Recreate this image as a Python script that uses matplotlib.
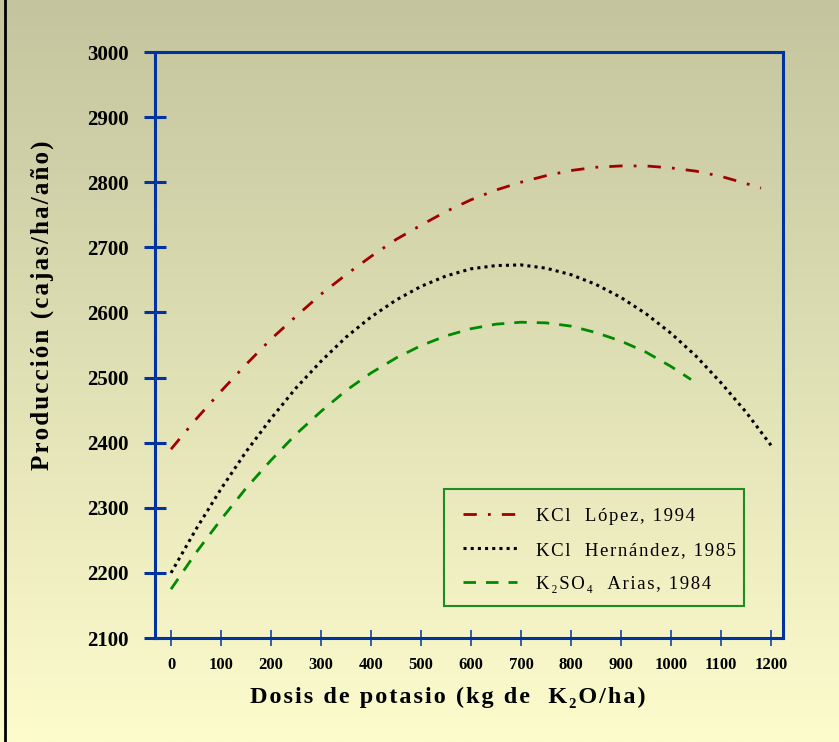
import numpy as np
import matplotlib.pyplot as plt
from matplotlib.colors import LinearSegmentedColormap
from matplotlib.lines import Line2D
from matplotlib.patches import Rectangle

plt.rcParams['font.family'] = ['Liberation Serif', 'DejaVu Serif']

# valores (kg K2O/ha -> cajas/ha/año)
dosis_lopez = [0, 50, 100, 150, 200, 250, 300, 350, 400, 450, 500, 550, 600,
               650, 700, 750, 800, 850, 900, 950, 1000, 1050, 1100, 1150, 1180]
prod_lopez = [2390, 2436, 2479, 2520, 2559, 2594, 2628, 2658, 2686, 2712, 2734,
              2755, 2773, 2788, 2800, 2810, 2818, 2823, 2825, 2825, 2822, 2817,
              2809, 2798, 2791]

dosis_hernandez = [0, 50, 100, 150, 200, 250, 300, 350, 400, 450, 500, 550, 600,
                   650, 700, 750, 800, 850, 900, 950, 1000, 1050, 1100, 1150, 1200]
prod_hernandez = [2200, 2267, 2329, 2386, 2437, 2484, 2525, 2562, 2593, 2619,
                  2640, 2656, 2667, 2672, 2673, 2668, 2658, 2643, 2623, 2598,
                  2568, 2533, 2492, 2447, 2396]

dosis_arias = [0, 50, 100, 150, 200, 250, 300, 350, 400, 450, 500, 550, 600,
               650, 700, 750, 800, 850, 900, 950, 1000, 1040]
prod_arias = [2175, 2231, 2282, 2330, 2373, 2413, 2448, 2480, 2507, 2530, 2549,
              2564, 2575, 2582, 2585, 2584, 2579, 2569, 2556, 2539, 2517, 2497]

etiquetas = ['KCl  López, 1994', 'KCl  Hernández, 1985', 'K₂SO₄  Arias, 1984']


def espaciar(t):
    # separacion entre letras como en el original
    return '\u200a'.join(t)


azul = '#0033a0'
W, H = 839, 742

fig = plt.figure(figsize=(W / 100, H / 100), dpi=100)

# fondo degradado
bg = fig.add_axes([0, 0, 1, 1], zorder=-10)
cmap = LinearSegmentedColormap.from_list('fondo', ['#c4c49e', '#fcfccd'])
bg.imshow(np.linspace(0, 1, 256)[:, None], aspect='auto', cmap=cmap,
          extent=[0, 1, 0, 1], origin='upper')
bg.axis('off')
fig.add_artist(Line2D([5 / W, 5 / W], [0, 1], transform=fig.transFigure,
                      color='black', lw=2))

ax = fig.add_axes([155 / W, 1 - 638 / H, 628 / W, 586 / H])
ax.patch.set_alpha(0)

ax.plot(dosis_lopez, prod_lopez, color='#a00000', lw=2.0,
        dashes=(4.8, 4.0, 1.0, 4.0), label=espaciar(etiquetas[0]))
ax.plot(dosis_hernandez, prod_hernandez, color='black', lw=2.2,
        dashes=(1, 1.35), label=espaciar(etiquetas[1]))
ax.plot(dosis_arias, prod_arias, color='#008a00', lw=2.0,
        dashes=(4.5, 3.6), label=espaciar(etiquetas[2]))

ax.set_xlim(-32, 1224)
ax.set_ylim(2100, 3000)
ax.set_xticks(range(0, 1201, 100))
ax.set_yticks(range(2100, 3001, 100))

for s in ax.spines.values():
    s.set_color(azul)
    s.set_linewidth(2.2)

ax.tick_params(axis='y', direction='inout', length=16.5, width=2.2,
               color=azul, pad=10.5, labelsize=15)
ax.tick_params(axis='x', direction='inout', length=12, width=1.1,
               color=azul, pad=8, labelsize=12)
for lab in ax.get_xticklabels() + ax.get_yticklabels():
    lab.set_fontweight('bold')

fig.text(448 / W, 1 - 697 / H, espaciar('Dosis de potasio (kg de  K₂O/ha)'),
         ha='center', va='center', fontsize=17.5, fontweight='bold')
fig.text(42 / W, 1 - 305 / H, espaciar('Producción (cajas/ha/año)'), rotation=90,
         ha='center', va='center', fontsize=18, fontweight='bold')

leg = ax.legend(loc='upper left', bbox_to_anchor=(444 / W, 1 - 489 / H),
                bbox_transform=fig.transFigure, fontsize=13.5, frameon=False,
                handlelength=2.9, handletextpad=1.0, borderpad=1.0,
                labelspacing=0.9, borderaxespad=0)
# marco de la leyenda
fig.add_artist(Rectangle((444 / W, 1 - 606 / H), 300 / W, 117 / H,
                         transform=fig.transFigure, fill=False,
                         edgecolor='#1e8c1e', lw=1.5))

fig.savefig('out.png', dpi=100)
